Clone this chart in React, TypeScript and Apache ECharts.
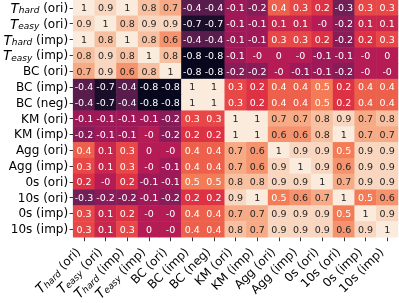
import React, { useEffect, useRef } from "react";
import * as echarts from "echarts";

const labels = [
  "T_hard (ori)", "T_easy (ori)", "T_hard (imp)", "T_easy (imp)",
  "BC (ori)", "BC (imp)", "BC (neg)", "KM (ori)", "KM (imp)",
  "Agg (ori)", "Agg (imp)", "0s (ori)", "10s (ori)", "0s (imp)", "10s (imp)",
];

const corr: number[][] = [
  [1, 0.9, 1, 0.8, 0.7, -0.4, -0.4, -0.1, -0.2, 0.4, 0.3, 0.2, -0.3, 0.3, 0.3],
  [0.9, 1, 0.8, 0.9, 0.9, -0.7, -0.7, -0.1, -0.1, 0.1, 0.1, -0, -0.2, 0.1, 0.1],
  [1, 0.8, 1, 0.8, 0.6, -0.4, -0.4, -0.1, -0.1, 0.3, 0.3, 0.2, -0.2, 0.2, 0.3],
  [0.8, 0.9, 0.8, 1, 0.8, -0.8, -0.8, -0.1, -0, 0, -0, -0.1, -0.1, -0, 0],
  [0.7, 0.9, 0.6, 0.8, 1, -0.8, -0.8, -0.2, -0.2, -0, -0.1, -0.1, -0.2, -0, -0],
  [-0.4, -0.7, -0.4, -0.8, -0.8, 1, 1, 0.3, 0.2, 0.4, 0.4, 0.5, 0.2, 0.4, 0.4],
  [-0.4, -0.7, -0.4, -0.8, -0.8, 1, 1, 0.3, 0.2, 0.4, 0.4, 0.5, 0.2, 0.4, 0.4],
  [-0.1, -0.1, -0.1, -0.1, -0.2, 0.3, 0.3, 1, 1, 0.7, 0.7, 0.8, 0.9, 0.7, 0.8],
  [-0.2, -0.1, -0.1, -0, -0.2, 0.2, 0.2, 1, 1, 0.6, 0.6, 0.8, 1, 0.7, 0.7],
  [0.4, 0.1, 0.3, 0, -0, 0.4, 0.4, 0.7, 0.6, 1, 0.9, 0.9, 0.5, 0.9, 0.9],
  [0.3, 0.1, 0.3, -0, -0.1, 0.4, 0.4, 0.7, 0.6, 0.9, 1, 0.9, 0.6, 0.9, 0.9],
  [0.2, -0, 0.2, -0.1, -0.1, 0.5, 0.5, 0.8, 0.8, 0.9, 0.9, 1, 0.7, 0.9, 0.9],
  [-0.3, -0.2, -0.2, -0.1, -0.2, 0.2, 0.2, 0.9, 1, 0.5, 0.6, 0.7, 1, 0.5, 0.6],
  [0.3, 0.1, 0.2, -0, -0, 0.4, 0.4, 0.7, 0.7, 0.9, 0.9, 0.9, 0.5, 1, 0.9],
  [0.3, 0.1, 0.3, 0, -0, 0.4, 0.4, 0.8, 0.7, 0.9, 0.9, 0.9, 0.6, 0.9, 1],
];

const rocket = ["#03051a", "#35193e", "#701f57", "#ad1759", "#e13342", "#f37651", "#f6b48f", "#faebdd"];

const fmtLabel = (v: string) => {
  const m = v.match(/^T_(\w+) (.*)$/);
  return m ? `{t|T}{s|${m[1]}}{n| ${m[2]}}` : `{n|${v}}`;
};

const rich = {
  n: { fontSize: 12, color: "#000", fontFamily: "DejaVu Sans" },
  t: { fontSize: 13.5, fontStyle: "italic", color: "#000", fontFamily: "DejaVu Sans" },
  s: { fontSize: 9, fontStyle: "italic", color: "#000", fontFamily: "DejaVu Sans", lineHeight: 4, verticalAlign: "bottom" },
};

export default function App() {
  const ref = useRef<HTMLDivElement>(null);
  useEffect(() => {
    const chart = echarts.init(ref.current!, null, { renderer: "svg" });
    const data: any[] = [];
    corr.forEach((row, y) =>
      row.forEach((v, x) => {
        data.push({
          value: [x, y, v],
          label: { color: v > 0.55 ? "#262626" : "#ffffff" },
        });
      })
    );
    chart.setOption({
      animation: false,
      grid: { left: 67, top: 0, width: 331, height: 247 },
      xAxis: {
        type: "category",
        data: labels,
        axisLine: { show: false },
        axisTick: { show: true, alignWithLabel: true, length: 4, lineStyle: { color: "#000", width: 0.8 } },
        axisLabel: { rotate: 45, margin: 7, padding: [0, 8, 0, 0], interval: 0, formatter: fmtLabel, rich },
        splitLine: { show: false },
      },
      yAxis: {
        type: "category",
        data: labels,
        inverse: true,
        axisLine: { show: false },
        axisTick: { show: true, alignWithLabel: true, length: 3.5, lineStyle: { color: "#000", width: 0.8 } },
        axisLabel: { margin: 5, interval: 0, formatter: fmtLabel, rich },
        splitLine: { show: false },
      },
      visualMap: {
        show: false,
        min: -0.82,
        max: 1,
        dimension: 2,
        inRange: { color: rocket },
      },
      series: [
        {
          type: "heatmap",
          data,
          label: {
            show: true,
            fontSize: 9.5,
            fontFamily: "DejaVu Sans",
            formatter: (p: any) => {
              const v = corr[p.value[1]][p.value[0]];
              const s = Math.abs(v).toFixed(1).replace(/\.0$/, "");
              return (v < 0 || Object.is(v, -0) ? "-" : "") + s;
            },
          },
          itemStyle: { borderWidth: 0 },
        },
      ],
    });
    return () => chart.dispose();
  }, []);
  return <div ref={ref} style={{ position: "fixed", left: 0, top: 0, width: 399, height: 303 }} />;
}
